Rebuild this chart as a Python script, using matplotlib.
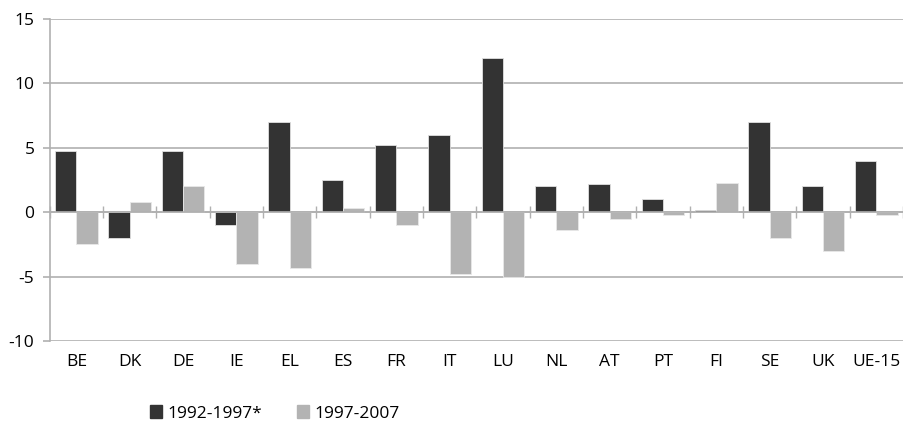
import numpy as np
import matplotlib.pyplot as plt
from matplotlib.patches import Patch
import matplotlib.transforms as mtransforms

# Datos por país
paises = ['BE', 'DK', 'DE', 'IE', 'EL', 'ES', 'FR', 'IT', 'LU', 'NL',
          'AT', 'PT', 'FI', 'SE', 'UK', 'UE-15']
p1992_1997 = [4.75, -2.0, 4.75, -1.0, 7.0, 2.5, 5.2, 6.0, 12.0, 2.0,
              2.2, 1.0, 0.2, 7.0, 2.0, 4.0]
p1997_2007 = [-2.5, 0.8, 2.0, -4.0, -4.3, 0.3, -1.0, -4.8, -5.0, -1.35,
              -0.5, -0.25, 2.3, -2.0, -3.0, -0.25]
series = ['1992-1997*', '1997-2007']

oscuro = '#333333'
claro = '#b3b3b3'
gris = '#b0b0b0'

plt.rcParams['font.family'] = ['Open Sans', 'DejaVu Sans']
plt.rcParams['axes.unicode_minus'] = False

fig = plt.figure(figsize=(9.04, 4.22), dpi=100)
ax = fig.add_axes([0.055, 0.192, 0.944, 0.763])

x = np.arange(len(paises))
ancho = 0.4
ax.bar(x - ancho / 2, p1992_1997, ancho, color=oscuro, edgecolor='#e0e0e0',
       linewidth=0.6, zorder=3)
ax.bar(x + ancho / 2, p1997_2007, ancho, color=claro, edgecolor='#e8e8e8',
       linewidth=0.6, zorder=3)

ax.set_xlim(-0.5, len(paises) - 0.5)
ax.set_ylim(-10, 15)
ax.set_yticks([-10, -5, 0, 5, 10, 15])
ax.grid(axis='y', color=gris, linewidth=1.2, zorder=0)

for lado in ['top', 'right']:
    ax.spines[lado].set_visible(False)
ax.spines['left'].set_color(gris)
ax.spines['left'].set_linewidth(1.2)
ax.spines['bottom'].set_position(('data', 0))
ax.spines['bottom'].set_color(gris)
ax.spines['bottom'].set_linewidth(1.2)
ax.spines['bottom'].set_zorder(4)

# marcas entre categorías sobre el eje cero
ax.set_xticks(np.arange(len(paises) + 1) - 0.5)
ax.set_xticklabels([])
ax.tick_params(axis='x', direction='inout', length=8, width=1, color=gris)
ax.tick_params(axis='y', length=5, width=1.2, color=gris, labelsize=12.5,
               pad=6)

trans = mtransforms.blended_transform_factory(ax.transData, ax.transAxes)
for i, p in enumerate(paises):
    ax.text(i, -0.04, p, transform=trans, ha='center', va='top',
            fontsize=12.5)

handles = [Patch(color=oscuro), Patch(color=claro)]
fig.legend(handles, series, loc='center left', bbox_to_anchor=(0.149, 0.02),
           ncol=2, frameon=False, fontsize=12.5, handlelength=0.7,
           handleheight=0.7, handletextpad=0.3, columnspacing=2.0)

fig.savefig('out.png', dpi=100)
